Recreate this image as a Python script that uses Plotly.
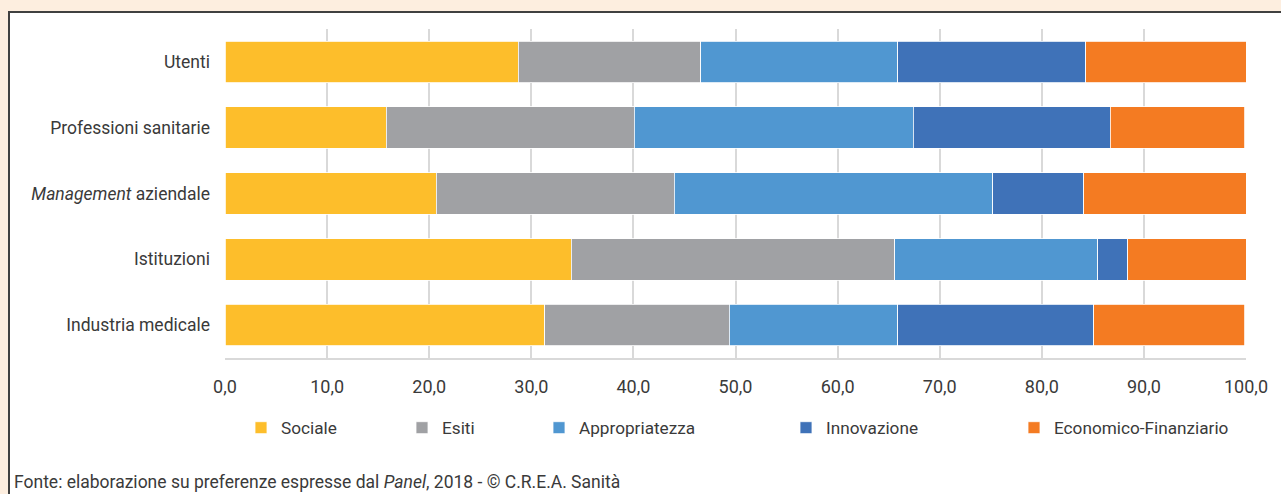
import plotly.graph_objects as go

# categorie (dall'alto verso il basso)
categorie = ["Utenti", "Professioni sanitarie", "<i>Management</i> aziendale",
             "Istituzioni", "Industria medicale"]

serie = ["Sociale", "Esiti", "Appropriatezza", "Innovazione", "Economico-Finanziario"]
sociale = [28.7, 15.8, 20.7, 33.9, 31.3]
esiti = [17.9, 24.3, 23.3, 31.7, 18.1]
appropriatezza = [19.3, 27.3, 31.2, 19.9, 16.5]
innovazione = [18.4, 19.3, 8.9, 2.9, 19.2]
economico = [15.7, 13.2, 15.9, 11.6, 14.8]
valori = [sociale, esiti, appropriatezza, innovazione, economico]
colori = ["#FDBE2B", "#A0A1A4", "#5097D1", "#3F72B8", "#F47B22"]

FONT = "Roboto, sans-serif"
TXT = "#3a3a3a"

# pixel geometry of plot area
L, R, T, B = 225, 35, 29, 136
W, H = 1281 - L - R, 494 - T - B

def px_x(p):
    return (p - L) / W

def px_y(p):
    return (494 - B - p) / H

fig = go.Figure()
legend_text_x = [281, 442, 579, 826, 1054]
for i, (nome, vals, col) in enumerate(zip(serie, valori, colori)):
    lg = "legend" if i == 0 else "legend%d" % (i + 1)
    fig.add_trace(go.Bar(
        y=categorie, x=vals, name=nome, orientation="h",
        marker=dict(color=col, line=dict(color="white", width=0.8)),
        legend=lg, showlegend=True,
    ))

layout_legends = {}
for i, tx in enumerate(legend_text_x):
    key = "legend" if i == 0 else "legend%d" % (i + 1)
    layout_legends[key] = dict(
        x=px_x(tx - 40), xanchor="left", y=px_y(428), yanchor="middle",
        orientation="h", bgcolor="rgba(0,0,0,0)",
        font=dict(family=FONT, size=17.2, color=TXT),
    )

fig.update_layout(
    barmode="stack",
    bargap=0.37,
    width=1281, height=494,
    showlegend=True,
    margin=dict(l=L, r=R, t=T, b=B),
    paper_bgcolor="#FDEEDF",
    plot_bgcolor="white",
    separators=",.",
    font=dict(family=FONT, size=17, color=TXT),
    xaxis=dict(range=[0, 100], dtick=10, tickformat=".1f",
               showgrid=True, gridcolor="#D9D9D9", gridwidth=1.5,
               showline=True, linecolor="#D9D9D9", linewidth=1.5,
               zeroline=False, ticks="", ticklen=0, ticklabelstandoff=12,
               tickfont=dict(family=FONT, size=18, color=TXT)),
    yaxis=dict(autorange="reversed", showgrid=False, ticks="",
               ticklabelstandoff=14, showline=False,
               tickfont=dict(family=FONT, size=17.5, color=TXT)),
    shapes=[dict(type="rect", xref="paper", yref="paper", layer="below",
                 x0=px_x(9), x1=px_x(1300), y0=px_y(520), y1=px_y(12),
                 fillcolor="white", line=dict(color="#404040", width=2))],
    annotations=[dict(
        text="Fonte: elaborazione su preferenze espresse dal <i>Panel</i>, 2018 - © C.R.E.A. Sanità",
        xref="paper", yref="paper", x=px_x(12), y=px_y(482),
        xanchor="left", yanchor="middle", showarrow=False,
        font=dict(family=FONT, size=17.5, color=TXT))],
    **layout_legends,
)

fig.write_html("out.html", config={"displayModeBar": False},
               post_script="document.body.style.margin='0';document.body.style.overflow='hidden';")
